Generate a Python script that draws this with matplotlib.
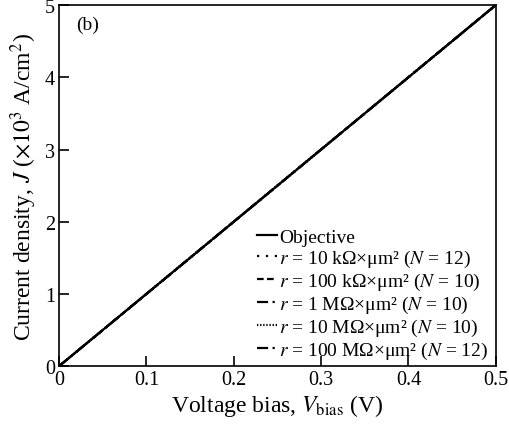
import matplotlib
matplotlib.use("Agg")
import matplotlib.pyplot as plt
import numpy as np

plt.rcParams['font.family'] = ['Liberation Serif', 'DejaVu Serif']
plt.rcParams['mathtext.fontset'] = 'stix'

# bias voltage (V) and current density (x10^3 A/cm^2)
v_bias = [0.0, 0.1, 0.2, 0.3, 0.4, 0.5]
j_objective = [0.0, 1.0, 2.0, 3.0, 4.0, 5.0]
j_r10k = [0.0, 1.0, 2.0, 3.0, 4.0, 5.0]
j_r100k = [0.0, 1.0, 2.0, 3.0, 4.0, 5.0]
j_r1M = [0.0, 1.0, 2.0, 3.0, 4.0, 5.0]
j_r10M = [0.0, 1.0, 2.0, 3.0, 4.0, 5.0]
j_r100M = [0.0, 1.0, 2.0, 3.0, 4.0, 5.0]

labels = [
    "Objective",
    r"$r$ = 10 kΩ×μm² ($N$ = 12)",
    r"$r$ = 100 kΩ×μm² ($N$ = 10)",
    r"$r$ = 1 MΩ×μm² ($N$ = 10)",
    r"$r$ = 10 MΩ×μm² ($N$ = 10)",
    r"$r$ = 100 MΩ×μm² ($N$ = 12)",
]
series = [j_objective, j_r10k, j_r100k, j_r1M, j_r10M, j_r100M]
styles = ['-', (0, (1, 3)), (0, (3, 1.5)), (0, (5, 2, 1, 2)), (0, (0.6, 0.8)), (0, (5, 2, 1, 2))]

fig = plt.figure(figsize=(5.09, 4.35), dpi=100)
ax = fig.add_axes([0.116, 0.156, 0.858, 0.830])

for y, ls, lab in zip(series, styles, labels):
    ax.plot(v_bias, y, color='black', lw=1.6, linestyle=ls, label=lab)

ax.set_xlim(0, 0.5)
ax.set_ylim(0, 5)
ax.set_xticks([0, 0.1, 0.2, 0.3, 0.4, 0.5])
ax.set_xticklabels(["0", "0.1", "0.2", "0.3", "0.4", "0.5"])
ax.set_yticks([0, 1, 2, 3, 4, 5])
ax.tick_params(direction='in', length=7, width=1.2, labelsize=14.5, pad=3)
for s in ax.spines.values():
    s.set_linewidth(1.2)

ax.set_xlabel(r"Voltage bias, $V_{\mathrm{bias}}$ (V)", fontsize=17, labelpad=2)
ax.set_ylabel(r"Current density, $J$ ($\times10^3$ A/cm$^2$)", fontsize=17, labelpad=4)
ax.text(0.04, 0.935, "(b)", transform=ax.transAxes, fontsize=14)

ax.legend(loc='lower right', bbox_to_anchor=(1.0, -0.008), frameon=False,
          fontsize=14, handlelength=1.0, handletextpad=0.1, labelspacing=0.1,
          borderaxespad=0.0)

fig.savefig("out.png", dpi=100)
